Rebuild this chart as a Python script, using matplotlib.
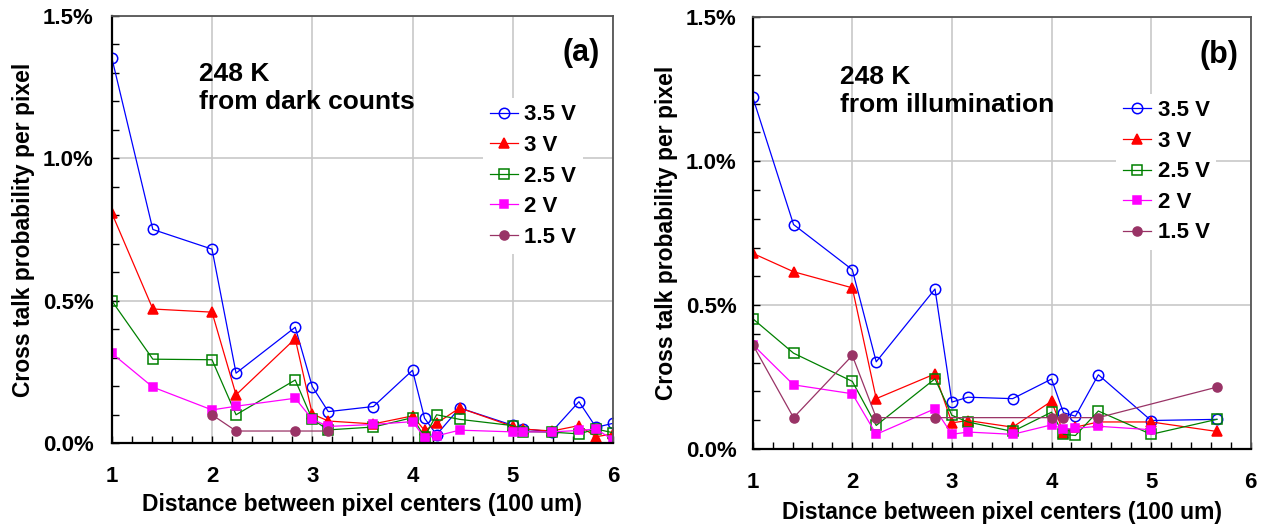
import matplotlib
matplotlib.use('Agg')
import matplotlib.pyplot as plt
from matplotlib.ticker import MultipleLocator, FuncFormatter

plt.rcParams['font.family'] = ['Liberation Sans', 'DejaVu Sans']
plt.rcParams['font.weight'] = 'bold'

# ---- data (cross talk probability in %) ----
bias_labels = ['3.5 V', '3 V', '2.5 V', '2 V', '1.5 V']

# (a) 248 K, from dark counts
dist_a = [1.00, 1.41, 2.00, 2.24, 2.83, 3.00, 3.16, 3.61, 4.00,
          4.12, 4.24, 4.47, 5.00, 5.10, 5.39, 5.66, 5.83, 6.00]
a_35 = [1.353, 0.750, 0.681, 0.246, 0.407, 0.199, 0.111, 0.129, 0.256,
        0.088, 0.030, 0.124, 0.063, 0.050, 0.041, 0.146, 0.056, 0.070]
a_3 = [0.808, 0.471, 0.460, 0.170, 0.367, 0.103, 0.078, 0.068, 0.096,
       0.045, 0.070, 0.124, 0.059, 0.050, 0.043, 0.062, 0.023, 0.033]
a_25 = [0.500, 0.295, 0.293, 0.100, 0.222, 0.084, 0.047, 0.057, 0.090,
        0.023, 0.100, 0.084, 0.062, 0.041, 0.039, 0.033, 0.050, 0.037]
a_2 = [0.316, 0.197, 0.117, 0.130, 0.158, 0.084, 0.059, 0.066, 0.076,
       0.020, 0.026, 0.046, 0.040, 0.040, 0.040, 0.045, 0.050, 0.012]
dist_a_15 = [2.00, 2.24, 2.83, 3.16]
a_15 = [0.100, 0.043, 0.043, 0.043]

# (b) 248 K, from illumination
dist_b = [1.00, 1.41, 2.00, 2.24, 2.83, 3.00, 3.16, 3.61, 4.00,
          4.12, 4.24, 4.47, 5.00, 5.66]
b_35 = [1.223, 0.780, 0.623, 0.303, 0.556, 0.163, 0.180, 0.175, 0.243,
        0.126, 0.114, 0.258, 0.099, 0.103]
b_3 = [0.680, 0.616, 0.560, 0.175, 0.261, 0.091, 0.099, 0.076, 0.166,
       0.057, 0.076, 0.094, 0.094, 0.061]
b_25 = [0.453, 0.333, 0.235, 0.082, 0.244, 0.117, 0.094, 0.061, 0.128,
        0.051, 0.047, 0.132, 0.051, 0.103]
dist_b_2 = [1.00, 1.41, 2.00, 2.24, 2.83, 3.00, 3.16, 3.61, 4.00,
            4.12, 4.24, 4.47, 5.00]
b_2 = [0.363, 0.223, 0.192, 0.051, 0.140, 0.051, 0.059, 0.051, 0.084,
       0.069, 0.072, 0.079, 0.067]
dist_b_15 = [1.00, 1.41, 2.00, 2.24, 2.83, 4.00, 4.12, 4.47, 5.66]
b_15 = [0.363, 0.109, 0.325, 0.109, 0.109, 0.109, 0.109, 0.109, 0.215]

# ---- styles per bias voltage ----
styles = [
    dict(color='#0000FF', marker='o', mfc='none', ms=7.5),
    dict(color='#FF0000', marker='^', mfc='#FF0000', ms=7.5),
    dict(color='#008000', marker='s', mfc='none', ms=6.5),
    dict(color='#FF00FF', marker='s', mfc='#FF00FF', ms=5.5),
    dict(color='#993366', marker='o', mfc='#993366', ms=6.5),
]

fig = plt.figure(figsize=(12.64, 5.31), dpi=100)
ax_a = fig.add_axes([0.0884, 0.1652, 0.3966, 0.8053])
ax_b = fig.add_axes([0.5955, 0.1544, 0.3940, 0.8130])

panels = [
    (ax_a, [(dist_a, a_35), (dist_a, a_3), (dist_a, a_25), (dist_a, a_2), (dist_a_15, a_15)],
     'from dark counts', '(a)', 13, 4, (0.719, 0.834)),
    (ax_b, [(dist_b, b_35), (dist_b, b_3), (dist_b, b_25), (dist_b_2, b_2), (dist_b_15, b_15)],
     'from illumination', '(b)', 11.5, 6, (0.708, 0.849)),
]

for ax, series, note, tag, ypad, xlpad, leg_pos in panels:
    for (xs, ys), lab, st in zip(series, bias_labels, styles):
        ax.plot(xs, ys, lw=0.9, mew=1.1, label=lab, **st)

    ax.set_xlim(1, 6)
    ax.set_ylim(0, 1.5)
    ax.xaxis.set_major_locator(MultipleLocator(1))
    ax.xaxis.set_minor_locator(MultipleLocator(0.2))
    ax.yaxis.set_major_locator(MultipleLocator(0.5))
    ax.yaxis.set_minor_locator(MultipleLocator(0.1))
    ax.yaxis.set_major_formatter(FuncFormatter(lambda v, p: f'{v:.1f}%'))
    ax.grid(True, which='major', color='#C8C8C8', lw=1.2)
    ax.set_axisbelow(True)

    ax.tick_params(which='both', direction='in', length=5, width=1,
                   top=False, right=False, labelsize=16)
    ax.tick_params(axis='y', which='major', pad=ypad)
    ax.tick_params(axis='x', which='major', pad=16.5)
    for s in ['left', 'bottom']:
        ax.spines[s].set_linewidth(1.6)
        ax.spines[s].set_color('black')
    for s in ['top', 'right']:
        ax.spines[s].set_linewidth(1.3)
        ax.spines[s].set_color('#555555')

    ax.set_xlabel('Distance between pixel centers (100 um)', fontsize=16.5,
                  fontweight='bold', labelpad=xlpad)
    ax.set_ylabel('Cross talk probability per pixel', fontsize=16.5,
                  fontweight='bold', labelpad=6)

    ax.text(0.175, 0.830, '248 K\n' + note, transform=ax.transAxes,
            fontsize=19, fontweight='bold', va='center', ha='left',
            linespacing=1.2)
    ax.text(0.936, 0.913, tag, transform=ax.transAxes, fontsize=22,
            fontweight='bold', va='center', ha='center')

    leg = ax.legend(loc='upper left', bbox_to_anchor=leg_pos, fontsize=16,
                    frameon=True, fancybox=False, handlelength=1.25,
                    handletextpad=0.3, labelspacing=0.43, borderpad=0.3)
    leg.get_frame().set_facecolor('white')
    leg.get_frame().set_edgecolor('none')
    leg.get_frame().set_alpha(1)
    for t in leg.get_texts():
        t.set_fontweight('bold')

fig.savefig('out.png', dpi=100)
